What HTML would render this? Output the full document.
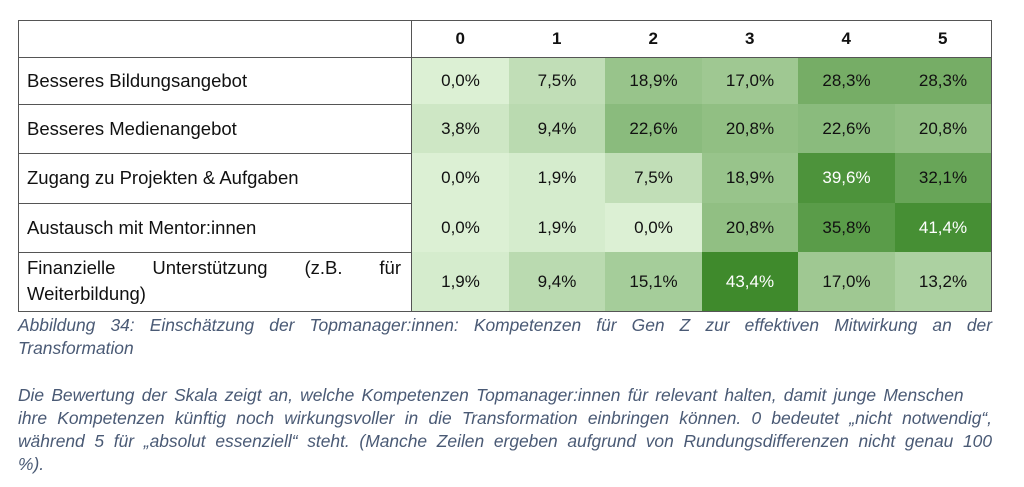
<!DOCTYPE html>
<html><head><meta charset="utf-8"><style>
body{margin:0;background:#fff;width:1024px;height:487px;overflow:hidden;font-family:"Liberation Sans",sans-serif}
#tbl{position:absolute;left:18px;top:20px;width:974px;height:292px;border:1px solid #555;box-sizing:border-box;overflow:hidden}
.c{position:absolute;display:flex;align-items:center;justify-content:center;font-size:17px;color:#111;box-sizing:border-box}
.h{font-weight:bold;font-size:17px}
.lab{position:absolute;left:8px;font-size:18.5px;color:#111;display:flex;align-items:center}
.cap{position:absolute;left:18px;width:974px;font-style:italic;color:#4a5a75;font-size:17.4px;line-height:23px}
.cap span{display:block;white-space:nowrap}
.j{text-align:justify;text-align-last:justify;white-space:normal!important}
</style></head><body>
<div id="tbl"></div>
<div class="cap" style="top:314px"><span class="j">Abbildung 34: Einschätzung der Topmanager:innen: Kompetenzen für Gen Z zur effektiven Mitwirkung an der</span><span>Transformation</span></div>
<div class="cap" style="top:384px"><span style="word-spacing:2.4px">Die Bewertung der Skala zeigt an, welche Kompetenzen Topmanager:innen für relevant halten, damit junge Menschen</span><span class="j">ihre Kompetenzen künftig noch wirkungsvoller in die Transformation einbringen können. 0 bedeutet „nicht notwendig“,</span><span class="j">während 5 für „absolut essenziell“ steht. (Manche Zeilen ergeben aufgrund von Rundungsdifferenzen nicht genau 100</span><span>%).</span></div>
<script>
const categories=["0","1","2","3","4","5"];
const rowLabels=["Besseres Bildungsangebot","Besseres Medienangebot","Zugang zu Projekten & Aufgaben","Austausch mit Mentor:innen","Finanzielle Unterstützung (z.B. für Weiterbildung)"];
const row0=[0.0,7.5,18.9,17.0,28.3,28.3];
const row1=[3.8,9.4,22.6,20.8,22.6,20.8];
const row2=[0.0,1.9,7.5,18.9,39.6,32.1];
const row3=[0.0,1.9,0.0,20.8,35.8,41.4];
const row4=[1.9,9.4,15.1,43.4,17.0,13.2];
const values=[row0,row1,row2,row3,row4];
const t=document.getElementById('tbl');
const rowTops=[0,36,83,132,182,231,291];
const x0=392,cw=(972-393)/6;
function color(v){const f=Math.min(v/43.4,1);const a=[220,240,212],b=[63,138,44];return 'rgb('+a.map((c,i)=>Math.round(c+(b[i]-c)*f)).join(',')+')';}
const lv=document.createElement('div');lv.style.cssText='position:absolute;left:'+x0+'px;top:0;width:1px;height:100%;background:#555';

t.appendChild(lv);
const hl=document.createElement('div');hl.style.cssText='position:absolute;left:0;top:36px;width:100%;height:1px;background:#555';

t.appendChild(hl);
categories.forEach((c,j)=>{const d=document.createElement('div');d.className='c h';d.textContent=c;
d.style.cssText+='left:'+(x0+1+j*cw)+'px;top:0;width:'+cw+'px;height:36px;';

t.appendChild(d);});
rowLabels.forEach((l,i)=>{const top=rowTops[i+1]+(i==0?1:0),h=rowTops[i+2]-top;
const d=document.createElement('div');d.className='lab';d.textContent=l;
d.style.cssText+='top:'+top+'px;height:'+h+'px;width:'+(x0-18)+'px;'+(i==4?'text-align:justify;text-align-last:left;line-height:26px;':'');
if(i==4){d.style.display='block';d.style.paddingTop='3px';d.style.boxSizing='border-box';}

t.appendChild(d);
if(i<4){const b=document.createElement('div');b.style.cssText='position:absolute;left:0;top:'+(top+h)+'px;width:'+x0+'px;height:1px;background:#555';

t.appendChild(b);}
values[i].forEach((v,j)=>{const c=document.createElement('div');c.className='c';
c.textContent=v.toFixed(1).replace('.',',')+'%';
c.style.cssText+='left:'+(x0+1+j*cw)+'px;top:'+top+'px;width:'+(cw+0.5)+'px;height:'+h+'px;background:'+color(v)+';color:'+(v>=38?'#fff':'#111');

t.appendChild(c);});});
</script>
</body></html>
